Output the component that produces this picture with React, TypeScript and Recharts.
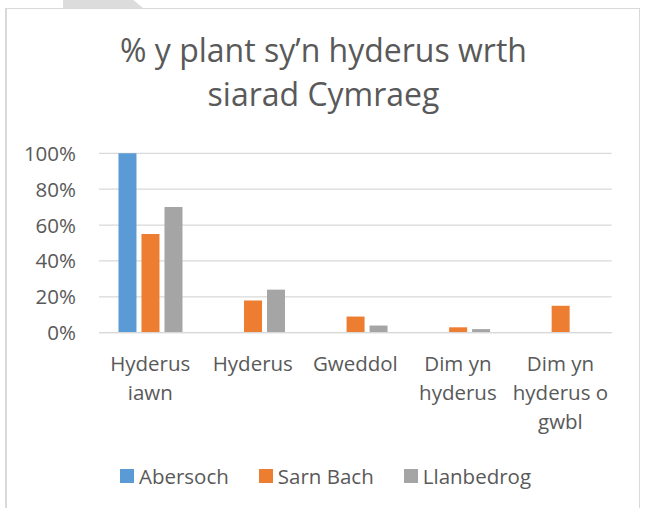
import React from "react";
import { BarChart, Bar, XAxis, YAxis, CartesianGrid, Legend } from "recharts";

const categories = ["Hyderus iawn", "Hyderus", "Gweddol", "Dim yn hyderus", "Dim yn hyderus o gwbl"];
const categoryLines = [["Hyderus", "iawn"], ["Hyderus"], ["Gweddol"], ["Dim yn", "hyderus"], ["Dim yn", "hyderus o", "gwbl"]];
const abersoch = [100, 0, 0, 0, 0];
const sarnBach = [55, 18, 9, 3, 15];
const llanbedrog = [70, 24, 4, 2, 0];
const yTicks = [0, 20, 40, 60, 80, 100];
const seriesNames = ["Abersoch", "Sarn Bach", "Llanbedrog"];
const seriesColors = ["#5B9BD5", "#ED7D31", "#A5A5A5"];
const titleLines = ["% y plant sy\u2019n hyderus wrth", "siarad Cymraeg"];

const data = categories.map((c, i) => ({
  category: c,
  Abersoch: abersoch[i],
  "Sarn Bach": sarnBach[i],
  Llanbedrog: llanbedrog[i],
}));

const FONT = "'Open Sans', sans-serif";
const TEXT = "#595959";
const GRID = "#D9D9D9";

const YTick = (props: any) => {
  const { x, y, payload } = props;
  return (
    <text x={x} y={y} dy={7.5} textAnchor="end" fill={TEXT} fontFamily={FONT} fontSize={20.5}>
      {`${payload.value}%`}
    </text>
  );
};

const XTick = (props: any) => {
  const { x, y, payload } = props;
  const idx = categories.indexOf(payload.value);
  const lines = categoryLines[idx] || [payload.value];
  return (
    <text x={x} y={y} textAnchor="middle" fill={TEXT} fontFamily={FONT} fontSize={20.5}>
      {lines.map((l, i) => (
        <tspan key={i} x={x} y={y + 38.5 + i * 29}>
          {l}
        </tspan>
      ))}
    </text>
  );
};

const LegendContent = () => (
  <div
    style={{
      display: "flex",
      justifyContent: "center",
      alignItems: "center",
      height: 24,
      fontFamily: FONT,
      fontSize: 20.5,
      color: TEXT,
    }}
  >
    {seriesNames.map((n, i) => (
      <div key={n} style={{ display: "flex", alignItems: "center", marginRight: i < seriesNames.length - 1 ? 30 : 0 }}>
        <div style={{ width: 14, height: 14, background: seriesColors[i], marginRight: 5 }} />
        <span style={{ lineHeight: "24px", whiteSpace: "nowrap" }}>{n}</span>
      </div>
    ))}
  </div>
);

export default function App() {
  return (
    <div style={{ position: "fixed", top: 0, left: 0, width: 647, height: 508, overflow: "hidden", background: "#fff" }}>
      <div
        style={{
          position: "absolute",
          left: 63,
          top: 0,
          width: 80,
          height: 8,
          background: "#DCDCDC",
          clipPath: "polygon(0 0, 88% 0, 100% 100%, 0 100%)",
        }}
      />
      <div
        style={{
          position: "absolute",
          left: 5,
          top: 8,
          width: 635,
          height: 520,
          border: `1px solid ${GRID}`,
          borderLeftWidth: 2,
          boxSizing: "border-box",
        }}
      />
      <svg width={647} height={130} style={{ position: "absolute", left: 0, top: 0 }}>
        <text textAnchor="middle" fill={TEXT} fontFamily={FONT} fontSize={32}>
          {titleLines.map((t, i) => (
            <tspan key={t} x={323.5} y={61.5 + i * 44}>
              {t}
            </tspan>
          ))}
        </text>
      </svg>
      <div style={{ position: "absolute", left: 0, top: 0 }}>
        <BarChart
          width={647}
          height={508}
          data={data}
          margin={{ top: 153.3, right: 35.3, left: 0, bottom: 51.3 }}
          barCategoryGap="19%"
          barGap={5}
        >
          <CartesianGrid vertical={false} stroke={GRID} strokeWidth={1.3} />
          <XAxis
            dataKey="category"
            interval={0}
            height={100}
            tickLine={false}
            tickSize={0}
            tickMargin={0}
            axisLine={{ stroke: GRID, strokeWidth: 1.3 }}
            tick={<XTick />}
          />
          <YAxis
            width={99}
            domain={[0, 100]}
            ticks={yTicks}
            axisLine={false}
            tickLine={false}
            tickSize={0}
            tickMargin={23}
            tick={<YTick />}
          />
          <Legend
            content={<LegendContent />}
            wrapperStyle={{ top: 464, bottom: "auto", left: 2, width: 647, height: 24 }}
          />
          {seriesNames.map((n, i) => (
            <Bar key={n} dataKey={n} fill={seriesColors[i]} isAnimationActive={false} />
          ))}
        </BarChart>
      </div>
    </div>
  );
}
